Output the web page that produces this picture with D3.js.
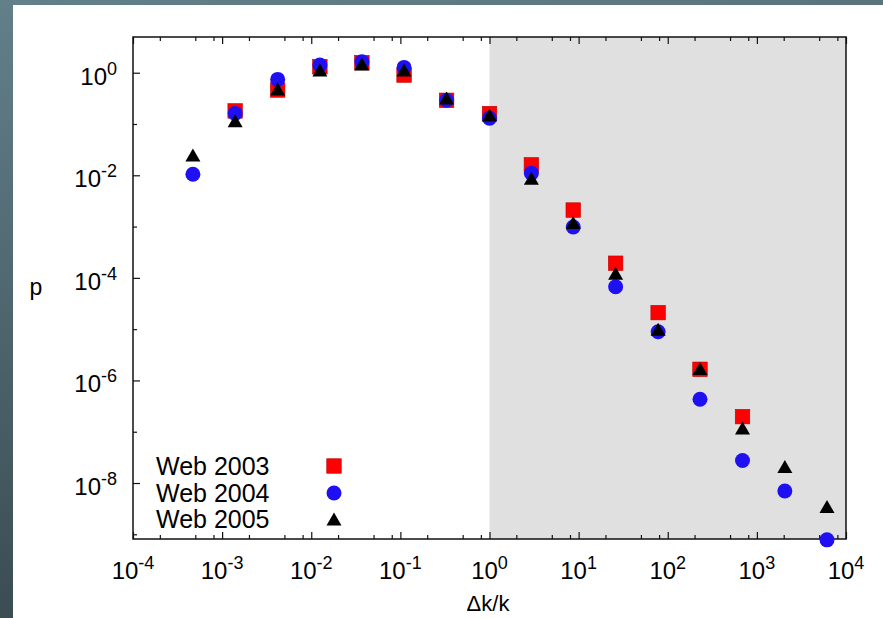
<!DOCTYPE html>
<html><head><meta charset="utf-8">
<script src="https://cdn.jsdelivr.net/npm/d3@7"></script>
<style>body{margin:0;padding:0;overflow:hidden;background:#fff}svg{display:block}</style>
</head><body>
<script>
// ---- data ----
const xValues = [4.7e-4, 1.4e-3, 4.2e-3, 0.0125, 0.037, 0.11, 0.33, 1.0, 2.95, 8.7, 26, 78, 230, 690, 2060, 6120];
const web2003 = [null, 0.18, 0.46, 1.31, 1.57, 0.90, 0.29, 0.16, 0.016, 0.0021, 1.93e-4, 2.1e-5, 1.65e-6, 1.97e-7, null, null];
const web2004 = [0.0105, 0.16, 0.74, 1.41, 1.64, 1.27, 0.29, 0.13, 0.011, 9.8e-4, 6.7e-5, 8.9e-6, 4.3e-7, 2.74e-8, 7.0e-9, 7.8e-10];
const web2005 = [0.025, 0.116, 0.48, 1.13, 1.48, 1.13, 0.32, 0.15, 0.0088, 0.0012, 1.23e-4, 1.0e-5, 1.7e-6, 1.18e-7, 2.1e-8, 3.5e-9];
const seriesNames = ["Web 2003", "Web 2004", "Web 2005"];
const xTickExps = [-4, -3, -2, -1, 0, 1, 2, 3, 4];
const yTickExps = [0, -2, -4, -6, -8];
const shadedFrom = 1, shadedTo = 1e4;

const W = 883, H = 618;
const svg = d3.select("body").append("svg").attr("width", W).attr("height", H);
const defs = svg.append("defs");
const g1 = defs.append("linearGradient").attr("id","frame").attr("x1",0).attr("y1",0).attr("x2",0).attr("y2",1);
g1.append("stop").attr("offset","0").attr("stop-color","#62808a");
g1.append("stop").attr("offset","1").attr("stop-color","#3b4c53");
svg.append("rect").attr("width",W).attr("height",H).attr("fill","url(#frame)");
const g2 = defs.append("linearGradient").attr("id","topf").attr("x1",0).attr("y1",0).attr("x2",1).attr("y2",0);
g2.append("stop").attr("offset","0").attr("stop-color","#62808a");
g2.append("stop").attr("offset","1").attr("stop-color","#5a747c");
svg.append("rect").attr("width",W).attr("height",5).attr("fill","url(#topf)");
svg.append("rect").attr("x",13).attr("y",5).attr("width",W-13).attr("height",H-5).attr("fill","#fff");

const L = 133, R = 846, T = 37, B = 539;
const x = d3.scaleLog().domain([1e-4, 1e4]).range([L, R]);
const y = d3.scaleLog().domain([8.1e-10, 4.97]).range([B, T]);

// shaded region
svg.append("rect").attr("x", x(shadedFrom)).attr("y", T).attr("width", x(shadedTo) - x(shadedFrom)).attr("height", B - T).attr("fill", "#e0e0e0");

const font = "'Liberation Sans', Arial, Helvetica, sans-serif";

// axes via d3 axis (inward ticks)
const xMajor = xTickExps.map(e => Math.pow(10, e));
const xMinor = [];
for (let e = -4; e < 4; e++) [2, 5, 8].forEach(m => xMinor.push(m * Math.pow(10, e)));
const yMajor = d3.range(-9, 1).map(e => Math.pow(10, e));

function styleAxis(sel){ sel.selectAll(".domain").remove(); sel.selectAll("text").remove(); sel.selectAll("line").attr("stroke","#111").attr("stroke-width",1.2); }
svg.append("g").attr("transform",`translate(0,${B})`).call(d3.axisBottom(x).tickValues(xMajor).tickSize(-7).tickFormat("")).call(styleAxis);
svg.append("g").attr("transform",`translate(0,${B})`).call(d3.axisBottom(x).tickValues(xMinor).tickSize(-4).tickFormat("")).call(styleAxis);
svg.append("g").attr("transform",`translate(0,${T})`).call(d3.axisTop(x).tickValues(xMajor).tickSize(-7).tickFormat("")).call(styleAxis);
svg.append("g").attr("transform",`translate(0,${T})`).call(d3.axisTop(x).tickValues(xMinor).tickSize(-4).tickFormat("")).call(styleAxis);
svg.append("g").attr("transform",`translate(${L},0)`).call(d3.axisLeft(y).tickValues(yMajor.filter(v => Math.round(Math.log10(v)) % 2 === 0)).tickSize(-7).tickFormat("")).call(styleAxis);
svg.append("g").attr("transform",`translate(${L},0)`).call(d3.axisLeft(y).tickValues(yMajor.filter(v => Math.round(Math.log10(v)) % 2 !== 0)).tickSize(-4).tickFormat("")).call(styleAxis);

// frame
svg.append("rect").attr("x",L).attr("y",T).attr("width",R-L).attr("height",B-T).attr("fill","none").attr("stroke","#111").attr("stroke-width",1.5);

// tick labels
xTickExps.forEach(e => {
  const t = svg.append("text").attr("x", x(Math.pow(10,e))).attr("y", 579).attr("text-anchor","middle")
    .attr("font-family",font).attr("font-size",24).attr("fill","#000");
  t.append("tspan").text("10");
  t.append("tspan").attr("dy",-10).attr("font-size",18).text(String(e));
});
yTickExps.forEach(e => {
  const t = svg.append("text").attr("x", 117).attr("y", y(Math.pow(10,e)) + 12).attr("text-anchor","end")
    .attr("font-family",font).attr("font-size",24).attr("fill","#000");
  t.append("tspan").text("10");
  t.append("tspan").attr("dy",-10).attr("font-size",18).text(String(e));
});

// axis titles
svg.append("text").attr("x", 488).attr("y", 611).attr("text-anchor","middle").attr("font-family",font).attr("font-size",22).text("Δk/k");
svg.append("text").attr("x", 36).attr("y", 295).attr("text-anchor","middle").attr("font-family",font).attr("font-size",23).text("p");

// markers
const RED = "#ff0000", BLUE = "#1f10f2", BLACK = "#000";
const sq = 14.5, cr = 7.5, tw = 15, th = 13;
function drawSquare(sel, cx, cy){ sel.append("rect").attr("x",cx-sq/2).attr("y",cy-sq/2).attr("width",sq).attr("height",sq).attr("fill",RED).attr("stroke","#c00000").attr("stroke-width",0.6); }
function drawCircle(sel, cx, cy){ sel.append("circle").attr("cx",cx).attr("cy",cy).attr("r",cr).attr("fill",BLUE); }
function drawTri(sel, cx, cy){ sel.append("path").attr("d",`M${cx-tw/2},${cy+th/2}L${cx+tw/2},${cy+th/2}L${cx},${cy-th/2}Z`).attr("fill",BLACK); }

const marks = svg.append("g");
const drawers = [drawSquare, drawCircle, drawTri];
[web2003, web2004, web2005].forEach((s, k) => {
  s.forEach((v, i) => { if (v != null) drawers[k](marks, x(xValues[i]), y(v)); });
});

// legend
const legY = [475, 502, 528];
seriesNames.forEach((n, k) => {
  svg.append("text").attr("x",156).attr("y",legY[k]).attr("font-family",font).attr("font-size",25).attr("fill","#000").text(n);
  drawers[k](svg, 334, legY[k] - 9);
});
</script>
</body></html>
